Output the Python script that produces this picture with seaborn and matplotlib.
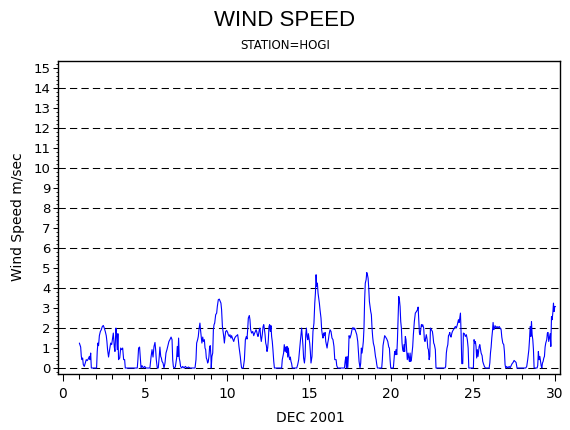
import pandas as pd
import numpy as np
import matplotlib
matplotlib.use("Agg")
import matplotlib.pyplot as plt
import seaborn as sns
from matplotlib.ticker import MultipleLocator

# wind speed (m/sec), as (day of Dec 2001, speed)
seg_a = [(1.00, 1.25), (1.08, 1.05), (1.12, 0.58), (1.16, 0.42), (1.20, 0.50), (1.24, 0.17),
         (1.30, 0.08), (1.36, 0.25), (1.42, 0.42), (1.48, 0.37), (1.54, 0.45), (1.61, 0.58),
         (1.65, 0.42), (1.69, 0.75), (1.73, 0.00), (2.05, 0.00), (2.09, 0.83), (2.13, 1.25),
         (2.17, 1.12), (2.22, 1.62), (2.28, 1.83), (2.34, 1.92), (2.40, 2.08), (2.46, 2.13),
         (2.52, 2.00), (2.58, 1.83), (2.64, 1.62), (2.68, 1.33), (2.72, 0.92), (2.78, 0.55),
         (2.85, 0.95), (2.91, 1.25), (2.97, 1.17), (3.03, 1.50), (3.07, 1.75), (3.13, 1.05),
         (3.17, 0.83), (3.23, 2.00), (3.27, 1.67), (3.31, 0.92), (3.35, 1.72), (3.39, 0.42),
         (3.46, 0.50), (3.52, 1.00), (3.58, 0.92), (3.64, 1.00), (3.70, 0.42), (3.76, 0.42),
         (3.80, 0.00), (4.53, 0.00), (4.57, 0.42), (4.61, 1.00), (4.67, 1.05), (4.72, 0.42),
         (4.76, 0.00), (4.82, 0.12), (4.90, 0.00), (4.98, 0.08), (5.06, 0.00), (5.30, 0.00),
         (5.37, 0.55), (5.43, 0.92), (5.49, 0.55), (5.55, 1.08), (5.61, 1.28), (5.65, 0.92),
         (5.69, 0.42), (5.75, 0.00), (5.81, 0.00), (5.87, 0.58), (5.91, 1.05), (5.96, 0.58),
         (6.00, 0.50), (6.04, 0.33), (6.10, 0.25), (6.16, 0.00), (6.22, 0.25), (6.28, 0.75),
         (6.34, 0.92), (6.40, 1.12), (6.46, 1.33), (6.52, 1.42), (6.59, 1.55), (6.65, 1.42),
         (6.69, 0.42), (6.73, 0.08), (6.77, 0.00), (6.85, 0.05), (6.93, 0.50), (6.97, 1.08),
         (7.01, 0.58), (7.05, 1.50), (7.09, 0.50), (7.13, 0.33), (7.17, 0.08), (7.24, 0.00),
         (7.30, 0.08), (7.38, 0.00), (7.46, 0.08), (7.56, 0.00)]

seg_b = [(7.65, 0.05), (7.75, 0.00), (8.05, 0.00), (8.11, 0.42), (8.15, 1.25), (8.21, 1.42),
         (8.25, 1.58), (8.29, 1.92), (8.35, 2.25), (8.39, 1.88), (8.43, 1.58), (8.47, 1.25),
         (8.52, 1.55), (8.56, 1.33), (8.62, 1.42), (8.66, 1.00), (8.70, 0.92), (8.74, 0.50),
         (8.78, 0.42), (8.82, 0.25), (8.86, 0.33), (8.90, 0.58), (8.94, 1.05), (8.98, 1.12),
         (9.02, 0.58), (9.04, 0.00), (9.08, 0.58), (9.13, 0.75), (9.17, 1.92), (9.21, 2.17),
         (9.25, 2.25), (9.31, 2.67), (9.37, 2.75), (9.41, 3.08), (9.47, 3.42), (9.53, 3.45),
         (9.59, 3.33), (9.63, 3.25), (9.67, 2.92), (9.72, 2.08), (9.76, 1.83), (9.80, 1.58),
         (9.84, 1.25), (9.88, 1.58), (9.92, 1.83), (9.98, 1.88), (10.04, 1.78), (10.08, 1.67),
         (10.14, 1.58), (10.18, 1.67), (10.24, 1.50), (10.28, 1.62), (10.35, 1.45), (10.41, 1.33),
         (10.47, 1.50), (10.53, 1.58), (10.59, 1.62), (10.65, 1.67), (10.69, 1.42), (10.73, 1.08),
         (10.77, 0.83), (10.81, 0.58), (10.85, 0.25), (10.89, 0.00), (10.99, 0.00), (11.06, 0.42),
         (11.12, 1.42), (11.18, 1.58), (11.22, 1.45), (11.26, 1.92), (11.30, 2.50), (11.36, 2.63),
         (11.40, 2.42), (11.44, 1.92), (11.50, 1.75), (11.57, 1.83), (11.63, 1.62), (11.67, 1.72),
         (11.73, 1.83), (11.77, 1.92), (11.81, 1.83), (11.85, 1.67), (11.89, 1.58), (11.93, 1.72),
         (11.97, 1.92), (12.01, 2.00), (12.05, 1.58), (12.09, 1.33), (12.15, 1.67), (12.20, 2.08),
         (12.24, 2.17), (12.28, 1.95), (12.32, 1.67), (12.36, 1.25), (12.40, 1.12), (12.44, 0.83),
         (12.48, 1.00), (12.52, 1.42), (12.56, 2.08), (12.60, 2.17), (12.64, 1.83), (12.68, 2.12),
         (12.72, 1.58), (12.76, 1.33), (12.80, 0.92), (12.85, 0.33), (12.89, 0.00), (13.33, 0.00),
         (13.37, 0.42), (13.41, 0.58), (13.45, 0.75), (13.49, 1.17), (13.54, 0.83), (13.58, 1.05),
         (13.62, 0.78), (13.66, 1.08), (13.70, 0.55), (13.74, 1.00), (13.78, 0.58), (13.82, 0.42),
         (13.86, 0.55), (13.90, 0.33), (13.94, 0.22), (13.98, 0.00), (14.25, 0.00), (14.31, 0.17),
         (14.37, 0.42), (14.43, 1.00), (14.47, 1.33), (14.51, 1.67), (14.55, 2.00), (14.59, 1.58),
         (14.63, 1.12), (14.67, 0.50), (14.72, 0.25), (14.76, 0.58), (14.80, 1.67), (14.84, 2.00),
         (14.88, 1.58), (14.92, 1.42), (14.96, 1.72), (15.00, 1.50), (15.04, 1.25), (15.08, 0.83),
         (15.12, 0.25), (15.18, 0.58)]

seg_c = [(15.24, 1.83), (15.30, 2.25), (15.35, 3.25), (15.39, 3.75), (15.43, 4.67), (15.47, 4.08),
         (15.51, 4.25), (15.55, 3.75), (15.59, 3.50), (15.63, 3.25), (15.67, 2.92), (15.73, 2.50),
         (15.77, 1.92), (15.81, 1.67), (15.85, 1.50), (15.89, 1.75), (15.93, 1.62), (15.98, 1.78),
         (16.02, 1.33), (16.06, 1.17), (16.10, 1.00), (16.14, 1.25), (16.18, 1.42), (16.22, 1.67),
         (16.28, 1.92), (16.34, 1.83), (16.40, 1.50), (16.46, 1.42), (16.52, 1.08), (16.57, 0.42),
         (16.65, 0.42), (16.69, 0.12), (16.75, 0.00), (17.16, 0.00), (17.20, 0.33), (17.24, 0.55),
         (17.28, 0.00), (17.32, 0.58), (17.36, 0.00), (17.40, 0.58), (17.44, 1.62), (17.50, 1.50),
         (17.56, 1.67), (17.62, 1.92), (17.68, 2.03), (17.74, 1.92), (17.78, 2.00), (17.85, 1.83),
         (17.91, 1.67), (17.97, 1.33), (18.01, 0.83), (18.05, 0.33), (18.11, 0.00), (18.15, 0.25),
         (18.19, 1.00), (18.23, 0.75), (18.27, 1.00), (18.31, 1.33), (18.35, 2.00), (18.39, 3.42),
         (18.43, 4.25), (18.48, 4.42), (18.52, 4.78), (18.56, 4.67), (18.60, 4.50), (18.64, 4.00),
         (18.68, 3.33), (18.72, 3.08), (18.76, 2.83), (18.80, 2.67), (18.84, 2.00), (18.88, 1.55),
         (18.92, 1.25), (18.98, 1.05), (19.05, 0.58), (19.09, 0.42), (19.13, 0.17), (19.17, 0.00),
         (19.43, 0.00), (19.47, 0.42), (19.51, 1.12), (19.55, 1.33), (19.61, 1.62), (19.67, 1.55),
         (19.74, 1.45), (19.80, 1.33), (19.86, 1.05), (19.90, 1.00), (19.94, 0.42), (19.98, 0.00),
         (20.14, 0.00), (20.18, 0.42), (20.22, 0.83), (20.26, 0.67), (20.30, 0.92), (20.35, 0.67),
         (20.39, 1.42), (20.43, 2.42), (20.47, 3.58), (20.51, 3.42), (20.55, 3.08), (20.59, 2.33),
         (20.63, 2.00), (20.67, 1.25), (20.71, 0.92), (20.75, 0.83), (20.79, 1.17), (20.83, 0.83),
         (20.87, 1.58), (20.91, 1.42), (20.95, 0.92), (20.99, 0.42), (21.04, 0.75), (21.08, 0.50),
         (21.12, 0.33), (21.16, 0.75), (21.20, 0.33), (21.24, 0.42), (21.28, 0.75), (21.32, 1.08),
         (21.36, 1.67), (21.42, 2.33), (21.48, 2.75), (21.55, 2.83), (21.61, 2.92), (21.65, 3.05),
         (21.69, 2.42), (21.73, 1.75), (21.77, 1.67), (21.81, 1.92), (21.85, 2.17), (21.89, 2.08),
         (21.93, 2.17), (21.99, 2.00), (22.03, 1.42), (22.07, 1.33), (22.11, 1.50), (22.15, 1.67),
         (22.20, 1.42), (22.24, 1.00), (22.28, 0.92), (22.32, 0.42), (22.36, 0.58), (22.40, 2.00),
         (22.46, 1.92), (22.52, 1.83), (22.56, 1.58), (22.60, 1.25), (22.64, 1.17), (22.70, 0.92),
         (22.74, 0.00)]

seg_d = [(23.29, 0.00), (23.33, 0.08), (23.37, 0.75), (23.41, 1.00), (23.46, 1.17), (23.50, 1.62),
         (23.54, 1.67), (23.58, 1.78), (23.62, 1.58), (23.66, 1.55), (23.70, 1.72), (23.74, 1.83),
         (23.80, 1.92), (23.86, 2.00), (23.92, 2.08), (23.98, 2.00), (24.04, 2.17), (24.11, 2.42),
         (24.15, 2.28), (24.19, 2.50), (24.23, 2.75), (24.27, 1.75), (24.31, 0.22), (24.37, 0.22),
         (24.41, 1.75), (24.47, 1.72), (24.53, 1.58), (24.59, 1.67), (24.65, 1.42), (24.70, 1.00),
         (24.74, 0.00), (25.02, 0.00), (25.06, 1.42), (25.10, 1.25), (25.14, 1.33), (25.18, 1.08),
         (25.22, 0.50), (25.26, 0.92), (25.30, 0.58), (25.37, 1.08), (25.41, 1.17), (25.45, 0.95),
         (25.49, 0.75), (25.55, 0.62), (25.59, 0.33), (25.63, 0.22), (25.69, 0.08), (25.75, 0.00),
         (25.98, 0.00), (26.02, 0.25), (26.06, 0.75), (26.10, 1.05), (26.14, 1.50), (26.18, 1.83),
         (26.22, 2.28), (26.26, 1.92), (26.30, 2.00), (26.34, 2.12), (26.40, 2.00), (26.46, 2.08),
         (26.52, 2.00), (26.59, 2.08), (26.65, 2.00), (26.71, 1.92), (26.75, 1.55), (26.81, 1.25),
         (26.87, 1.17), (26.91, 0.83), (26.95, 0.17), (26.99, 0.00), (27.05, 0.08), (27.11, 0.00),
         (27.20, 0.08), (27.26, 0.00), (27.32, 0.12), (27.38, 0.22), (27.44, 0.28), (27.50, 0.38),
         (27.56, 0.33), (27.62, 0.28), (27.68, 0.00), (28.21, 0.00), (28.27, 0.08), (28.33, 0.42),
         (28.40, 0.92), (28.44, 1.42), (28.48, 2.08), (28.52, 1.58), (28.56, 2.33), (28.60, 1.67),
         (28.64, 1.42), (28.68, 0.92), (28.72, 0.00), (28.90, 0.00), (28.94, 0.12), (28.98, 0.83),
         (29.02, 0.42), (29.07, 0.58), (29.11, 0.33), (29.15, 0.12), (29.19, 0.00), (29.23, 0.25),
         (29.27, 0.33), (29.31, 0.50), (29.35, 0.58), (29.39, 1.05), (29.43, 1.25), (29.49, 1.42),
         (29.53, 1.75), (29.57, 1.78), (29.61, 1.33), (29.65, 1.50), (29.70, 1.72), (29.74, 1.08),
         (29.78, 2.58), (29.82, 2.42), (29.86, 2.75), (29.90, 3.25), (29.94, 2.83), (29.98, 3.08),
         (30.02, 3.08)]

grid_levels = [0, 2, 4, 6, 8, 10, 12, 14]
x_ticks = [0, 5, 10, 15, 20, 25, 30]
y_ticks = list(range(0, 16))

df = pd.DataFrame(seg_a + seg_b + seg_c + seg_d, columns=['day', 'speed'])

sns.set_style("white")
plt.rcParams['font.family'] = ['DejaVu Sans']
plt.rcParams['text.color'] = 'black'
plt.rcParams['axes.labelcolor'] = 'black'
plt.rcParams['xtick.color'] = 'black'
plt.rcParams['ytick.color'] = 'black'

fig = plt.figure(figsize=(5.7, 4.3), dpi=100)
ax = fig.add_axes([0.1018, 0.1302, 0.8807, 0.7279])

# lineas discontinuas de referencia
for lev in grid_levels:
    ax.axhline(lev, color='black', lw=0.75, linestyle=(0, (7.0, 4.0)), zorder=1)

sns.lineplot(data=df, x='day', y='speed', estimator=None, sort=False,
             color='#0000ff', lw=0.8, ax=ax, zorder=2)

ax.set_xlim(-0.3, 30.3)
ax.set_ylim(-0.3, 15.37)
ax.set_xticks(x_ticks)
ax.set_yticks(y_ticks)
ax.xaxis.set_minor_locator(MultipleLocator(1))
ax.yaxis.set_minor_locator(MultipleLocator(0.2))
ax.tick_params(axis='x', which='major', direction='out', length=5, width=0.75,
               labelsize=10, pad=4, bottom=True)
ax.tick_params(axis='x', which='minor', direction='out', length=3.5, width=0.75, bottom=True)
ax.tick_params(axis='y', which='major', direction='out', length=3.5, width=0.75,
               labelsize=9.5, pad=2, left=True)
ax.tick_params(axis='y', which='minor', direction='out', length=1.8, width=0.6, left=True)

for sp in ax.spines.values():
    sp.set_color('black')
    sp.set_linewidth(1.0)

ax.set_xlabel('')
ax.set_ylabel('')
fig.text(0.5437, 0.028, 'DEC 2001', ha='center', va='center', fontsize=10)
fig.text(0.032, 0.495, 'Wind Speed m/sec', ha='center', va='center', rotation=90, fontsize=10)
fig.text(0.5, 0.953, 'WIND SPEED', ha='center', va='center', fontsize=16,
         family=['Liberation Sans', 'DejaVu Sans'])
fig.text(0.5, 0.895, 'STATION=HOGI', ha='center', va='center', fontsize=8.5)

fig.savefig('out.png', dpi=100, facecolor='white')
